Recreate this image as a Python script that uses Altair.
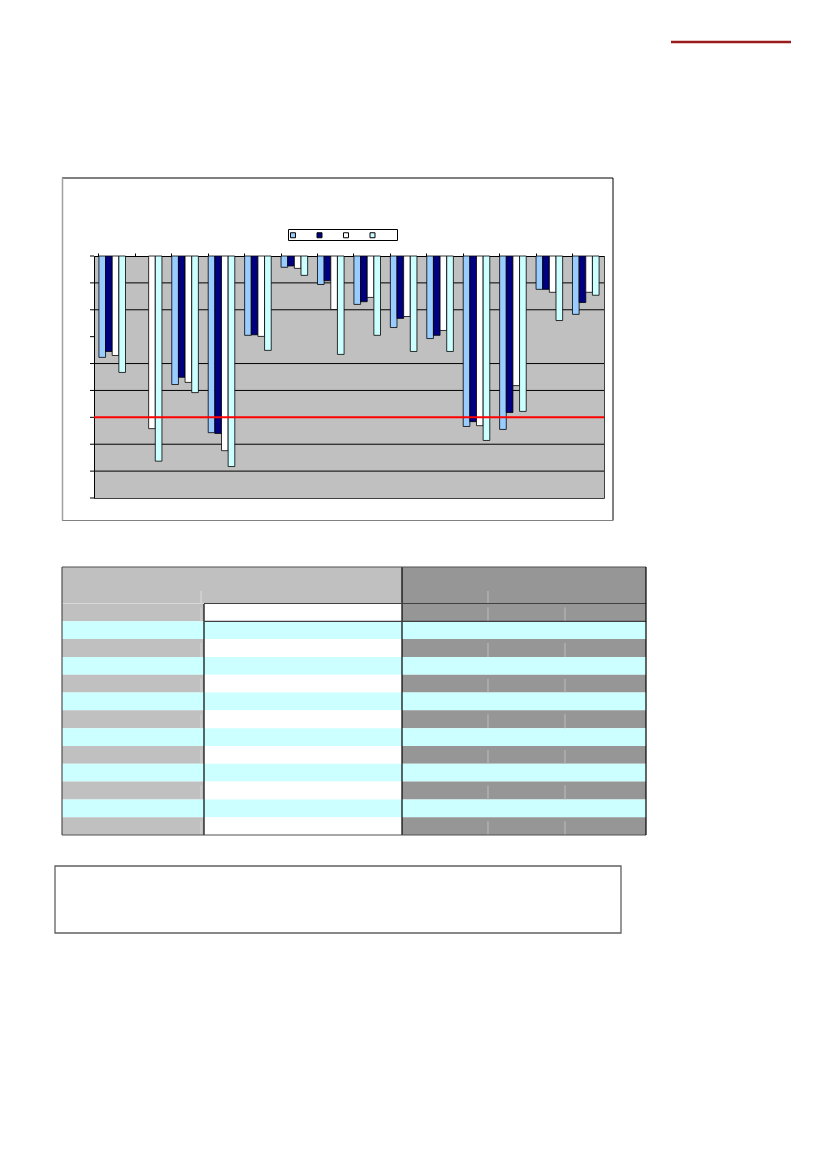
import altair as alt
import pandas as pd

# ---------------- data ----------------
groups = [str(i) for i in range(1, 15)]
series = ["Série 1", "Série 2", "Série 3", "Série 4"]
s1 = [-3.77, None, -4.78, -6.57, -2.95, -0.42, -1.06, -1.80, -2.66, -3.07, -6.34, -6.45, -1.24, -2.17]
s2 = [-3.55, None, -4.51, -6.60, -2.93, -0.37, -0.92, -1.70, -2.32, -2.95, -6.16, -5.82, -1.24, -1.73]
s3 = [-3.70, -6.42, -4.70, -7.24, -2.99, -0.46, -1.99, -1.54, -2.25, -2.77, -6.31, -4.82, -1.35, -1.35]
s4 = [-4.33, -7.63, -5.08, -7.83, -3.51, -0.72, -3.66, -2.95, -3.55, -3.55, -6.86, -5.78, -2.40, -1.46]
series_colors = ["#99CCFF", "#000080", "#FFFFFF", "#CCFFFF"]
threshold = [-6]
grid_values = [-1, -2, -4, -5, -7, -8]
y_ticks = list(range(-9, 1))

# table (no text): row kinds, top to bottom
table_rows = ["grey", "cyan", "grey", "cyan", "grey", "cyan", "grey",
              "cyan", "grey", "cyan", "grey", "cyan", "grey"]

# ---------------- layout constants ----------------
W, H = 510, 242
OX, OY = 94, 256  # plot origin on the page

rows = []
for name, vals in zip(series, [s1, s2, s3, s4]):
    for g, v in zip(groups, vals):
        rows.append({"group": g, "series": name, "value": v})
df = pd.DataFrame(rows)

yscale = alt.Scale(domain=[-9, 0], nice=False)

bars = alt.Chart(df).mark_bar(stroke="black", strokeWidth=0.8).encode(
    x=alt.X("group:N", sort=groups,
            scale=alt.Scale(domain=groups, paddingInner=0.27, paddingOuter=0.135),
            axis=alt.Axis(orient="top", labels=False, ticks=True, tickSize=3,
                          bandPosition=0, domainColor="black", tickColor="black",
                          title=None, grid=False)),
    xOffset=alt.XOffset("series:N", sort=series,
                        scale=alt.Scale(domain=series, paddingInner=0, paddingOuter=0)),
    y=alt.Y("value:Q", scale=yscale,
            axis=alt.Axis(labels=False, ticks=False, domainColor="black",
                          grid=False, title=None)),
    color=alt.Color("series:N", sort=series,
                    scale=alt.Scale(domain=series, range=series_colors),
                    legend=alt.Legend(orient="none", legendX=196, legendY=-24,
                                      direction="horizontal", title=None,
                                      labelExpr="''", labelFontSize=6, labelOffset=0,
                                      symbolType="square", symbolSize=25,
                                      symbolStrokeColor="black", symbolStrokeWidth=1,
                                      columnPadding=16.5, padding=0)),
)

grid = alt.Chart(pd.DataFrame({"v": grid_values})).mark_rule(
    color="black", strokeWidth=1).encode(y=alt.Y("v:Q", scale=yscale))
ticks = alt.Chart(pd.DataFrame({"v": y_ticks})).mark_rule(
    color="black", strokeWidth=1).encode(
    y=alt.Y("v:Q", scale=yscale), x=alt.value(-4), x2=alt.value(0))
red = alt.Chart(pd.DataFrame({"v": threshold})).mark_rule(
    color="#FF0000", strokeWidth=2).encode(y=alt.Y("v:Q", scale=yscale))

chart_layer = alt.layer(grid, bars, red, ticks)

# ---------------- table ----------------
TW, TH = 584, 268
HEAD_H = 36.5
ROW_H = (TH - HEAD_H) / len(table_rows)
C1, C2 = 142, 340
R1, R2 = 426, 503
cells = [
    {"x": 0, "x2": C2, "y": 0, "y2": HEAD_H, "fill": "#C0C0C0"},
    {"x": C2, "x2": TW, "y": 0, "y2": HEAD_H, "fill": "#969696"},
]
lines = []
for i, kind in enumerate(table_rows):
    y0 = HEAD_H + i * ROW_H
    y1 = y0 + ROW_H
    if kind == "grey":
        cells += [
            {"x": 0, "x2": C1, "y": y0, "y2": y1, "fill": "#C0C0C0"},
            {"x": C1, "x2": C2, "y": y0, "y2": y1, "fill": "#FFFFFF"},
            {"x": C2, "x2": TW, "y": y0, "y2": y1, "fill": "#969696"},
        ]
        for xa in (R1, R2):
            lines.append({"x": xa, "x2": xa, "y": y0 + 4, "y2": y1, "c": "#B8B8B8"})
        lines.append({"x": C1 - 3, "x2": C1 - 3, "y": y0 + 4, "y2": y1, "c": "#D0D0D0"})
    else:
        cells.append({"x": 0, "x2": TW, "y": y0, "y2": y1, "fill": "#CCFFFF"})
cells_df = pd.DataFrame(cells)

lines += [
    {"x": R1, "x2": R1, "y": 24, "y2": HEAD_H, "c": "#B8B8B8"},
    {"x": C1 - 3, "x2": C1 - 3, "y": 24, "y2": HEAD_H, "c": "#D8D8D8"},
    {"x": C2, "x2": C2, "y": 0, "y2": TH, "c": "#000000"},
    {"x": C1, "x2": C1, "y": HEAD_H, "y2": TH, "c": "#000000"},
    {"x": C1, "x2": TW, "y": HEAD_H, "y2": HEAD_H, "c": "#404040"},
    {"x": C1, "x2": TW, "y": HEAD_H + ROW_H, "y2": HEAD_H + ROW_H, "c": "#404040"},
    {"x": 0, "x2": C1, "y": HEAD_H, "y2": HEAD_H, "c": "#D8D8D8"},
    {"x": 0, "x2": TW, "y": 0, "y2": 0, "c": "#505050"},
    {"x": 0, "x2": TW, "y": TH, "y2": TH, "c": "#505050"},
    {"x": 0, "x2": 0, "y": 0, "y2": TH, "c": "#505050"},
    {"x": TW, "x2": TW, "y": 0, "y2": TH, "c": "#000000"},
]
lines_df = pd.DataFrame(lines)

tx = alt.Scale(domain=[0, TW], range=[62 - OX, 62 - OX + TW])
ty = alt.Scale(domain=[0, TH], range=[567 - OY, 567 - OY + TH])
table_cells = alt.Chart(cells_df).mark_rect().encode(
    x=alt.X("x:Q", scale=tx, axis=None), x2="x2:Q",
    y=alt.Y("y:Q", scale=ty, axis=None), y2="y2:Q",
    color=alt.Color("fill:N", scale=None),
)
table_lines = alt.Chart(lines_df).mark_rule(strokeWidth=1.2).encode(
    x=alt.X("x:Q", scale=tx, axis=None), x2="x2:Q",
    y=alt.Y("y:Q", scale=ty, axis=None), y2="y2:Q",
    color=alt.Color("c:N", scale=None),
)
table_layer = alt.layer(table_cells, table_lines)

# ---------------- decorations ----------------
def hline(x1, x2, y, color, w=1.0):
    return alt.Chart(pd.DataFrame({"k": [0]})).mark_rule(color=color, strokeWidth=w).encode(
        x=alt.value(x1 - OX), x2=alt.value(x2 - OX), y=alt.value(y - OY))

def vline(x, y1, y2, color, w=1.0):
    return alt.Chart(pd.DataFrame({"k": [0]})).mark_rule(color=color, strokeWidth=w).encode(
        x=alt.value(x - OX), y=alt.value(y1 - OY), y2=alt.value(y2 - OY))

def box(x1, x2, y1, y2, stroke, fill="white", w=1.0):
    return alt.Chart(pd.DataFrame({"k": [0]})).mark_rect(
        fill=fill, stroke=stroke, strokeWidth=w).encode(
        x=alt.value(x1 - OX), x2=alt.value(x2 - OX),
        y=alt.value(y1 - OY), y2=alt.value(y2 - OY))

frame = [
    hline(62, 613, 178, "#000000"),
    vline(613, 178, 520.5, "#000000"),
    hline(62, 613, 520.5, "#808080", 1.2),
    vline(62.5, 178, 520.5, "#A0A0A0", 1.5),
]
legend_box = box(288.5, 397.5, 229.5, 240.5, "black")
top_line = hline(671, 791, 42, "#9A1B1B", 2.5)
note_box = box(55, 621, 866, 933, "#606060", w=1.3)

final = alt.layer(
    *frame, legend_box, top_line, note_box,
    chart_layer, table_layer,
).resolve_scale(x="independent", y="independent", color="independent").properties(
    width=W, height=H,
    autosize=alt.AutoSizeParams(type="none"),
    padding={"left": OX - 8, "top": OY - 8, "right": 200, "bottom": 450},
).configure_view(fill="#C0C0C0", stroke="#404040", strokeWidth=1)

final.save("out.html", embed_options={"renderer": "svg", "actions": False})
